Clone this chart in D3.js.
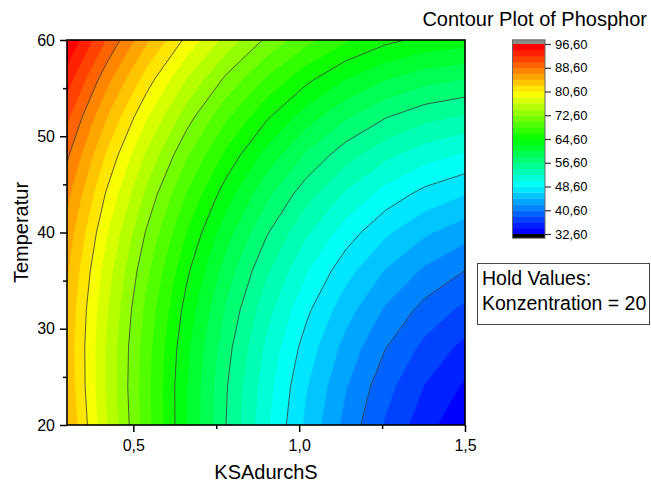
<!DOCTYPE html>
<html lang="en">
<head>
<meta charset="UTF-8">
<title>Contour Plot of Phosphor</title>
<script src="https://cdnjs.cloudflare.com/ajax/libs/d3/7.8.5/d3.min.js"></script>
<style>
  body { margin: 0; background: #fff; }
  svg { display: block; font-family: "Liberation Sans", Arial, sans-serif; }
</style>
</head>
<body>
<div id="chart"></div>
<script>
// grid: columns = KSAdurchS, rows = Temperatur (Konzentration held at 20)
const ksa = [0.30, 0.42, 0.54, 0.66, 0.78, 0.90, 1.02, 1.14, 1.26, 1.38, 1.50];
const temps = [20, 24, 28, 32, 36, 40, 44, 48, 52, 56, 60];

// Phosphor, one row per temperature
const phos20 = [84.69, 76.73, 69.39, 62.67, 56.57, 51.09, 46.22, 41.98, 38.36, 35.35, 32.97];
const phos24 = [84.14, 76.37, 69.22, 62.68, 56.77, 51.48, 46.80, 42.74, 39.31, 36.49, 34.29];
const phos28 = [83.98, 76.39, 69.43, 63.08, 57.36, 52.25, 47.76, 43.89, 40.64, 38.01, 36.00];
const phos32 = [84.20, 76.80, 70.02, 63.87, 58.33, 53.41, 49.11, 45.42, 42.36, 39.92, 38.10];
const phos36 = [84.81, 77.60, 71.01, 65.03, 59.68, 54.95, 50.84, 47.34, 44.47, 42.21, 40.57];
const phos40 = [85.80, 78.77, 72.37, 66.59, 61.42, 56.88, 52.95, 49.64, 46.95, 44.89, 43.44];
const phos44 = [87.17, 80.33, 74.12, 68.52, 63.54, 59.19, 55.45, 52.33, 49.83, 47.94, 46.68];
const phos48 = [88.93, 82.28, 76.25, 70.84, 66.05, 61.88, 58.33, 55.39, 53.08, 51.39, 50.31];
const phos52 = [91.07, 84.61, 78.77, 73.54, 68.94, 64.96, 61.59, 58.85, 56.72, 55.21, 54.33];
const phos56 = [93.60, 87.32, 81.67, 76.63, 72.22, 68.42, 65.24, 62.68, 60.74, 59.42, 58.72];
const phos60 = [96.51, 90.42, 84.95, 80.10, 75.88, 72.27, 69.28, 66.90, 65.15, 64.02, 63.51];
const rows = [phos20, phos24, phos28, phos32, phos36, phos40, phos44, phos48, phos52, phos56, phos60];

// levels
const colorTicks = [32.6, 40.6, 48.6, 56.6, 64.6, 72.6, 80.6, 88.6, 96.6];
const lineLevels = [40.6, 48.6, 56.6, 64.6, 72.6, 80.6, 88.6];
const levelStep = 2;
const xTicks = [0.5, 1.0, 1.5];
const xMinor = [0.75, 1.25];
const yTicks = [20, 30, 40, 50, 60];
const yMinor = [25, 35, 45, 55];

const W = 651, H = 482;
const plot = { left: 67, right: 465, top: 40, bottom: 425 };

const svg = d3.select("#chart").append("svg")
  .attr("width", W).attr("height", H);

const x = d3.scaleLinear().domain([0.3, 1.5]).range([plot.left, plot.right]);
const y = d3.scaleLinear().domain([20, 60]).range([plot.bottom, plot.top]);

const comma = f => (v => d3.format(f)(v).replace(".", ","));

// fill levels 32.6 .. 94.6 (band i spans [lvl, lvl + 2])
const lo = colorTicks[0], hi = colorTicks[colorTicks.length - 1];
const fillLevels = d3.range(0, Math.round((hi - lo) / levelStep)).map(i => +(lo + i * levelStep).toFixed(2));
const nb = fillLevels.length;
const rainbow = d3.scaleLinear()
  .domain([0, 0.25, 0.5, 0.75, 1])
  .range(["#0000ff", "#00ffff", "#00ff00", "#ffff00", "#ff0000"]);
const bandColor = i => rainbow(i / (nb - 1));

// contours on the grid
const nx = ksa.length, ny = temps.length;
const values = rows.flat();
const xStep = ksa[1] - ksa[0], tStep = temps[1] - temps[0];
const toPx = d3.geoTransform({
  point(gx, gy) {
    this.stream.point(x(ksa[0] + (gx - 0.5) * xStep), y(temps[0] + (gy - 0.5) * tStep));
  }
});
const path = d3.geoPath(toPx);
const contours = d3.contours().size([nx, ny]);

svg.append("clipPath").attr("id", "clip")
  .append("rect")
  .attr("x", plot.left).attr("y", plot.top)
  .attr("width", plot.right - plot.left).attr("height", plot.bottom - plot.top);

const g = svg.append("g").attr("clip-path", "url(#clip)");

g.selectAll("path.band")
  .data(contours.thresholds(fillLevels)(values))
  .join("path")
  .attr("class", "band")
  .attr("d", path)
  .attr("fill", (d, i) => bandColor(i))
  .attr("stroke", (d, i) => bandColor(i))
  .attr("stroke-width", 0.4);

g.selectAll("path.iso")
  .data(contours.thresholds(lineLevels)(values))
  .join("path")
  .attr("class", "iso")
  .attr("d", path)
  .attr("fill", "none")
  .attr("stroke", "#3a3a3a")
  .attr("stroke-width", 0.8);

// frame
svg.append("rect")
  .attr("x", plot.left).attr("y", plot.top)
  .attr("width", plot.right - plot.left).attr("height", plot.bottom - plot.top)
  .attr("fill", "none").attr("stroke", "#000").attr("stroke-width", 1.6);

// axes
function styleAxis(sel) {
  sel.select(".domain").remove();
  sel.selectAll(".tick line").attr("stroke", "#000").attr("stroke-width", 1.5);
  sel.selectAll(".tick text").attr("fill", "#000").style("font-size", "16px")
    .style("font-family", "'Liberation Sans', Arial, sans-serif");
}
svg.append("g")
  .attr("transform", `translate(0,${plot.bottom})`)
  .call(d3.axisBottom(x).tickValues(xTicks).tickFormat(comma(".1f")).tickSize(7).tickPadding(8))
  .call(styleAxis);
svg.append("g")
  .attr("transform", `translate(0,${plot.bottom})`)
  .call(d3.axisBottom(x).tickValues(xMinor).tickFormat("").tickSize(4))
  .call(styleAxis);
svg.append("g")
  .attr("transform", `translate(${plot.left},0)`)
  .call(d3.axisLeft(y).tickValues(yTicks).tickFormat(d3.format("d")).tickSize(7).tickPadding(5))
  .call(styleAxis);
svg.append("g")
  .attr("transform", `translate(${plot.left},0)`)
  .call(d3.axisLeft(y).tickValues(yMinor).tickFormat("").tickSize(4))
  .call(styleAxis);

// axis titles
svg.append("text")
  .attr("x", (plot.left + plot.right) / 2).attr("y", 479)
  .attr("text-anchor", "middle").style("font-size", "20px")
  .text("KSAdurchS");
svg.append("text")
  .attr("transform", `translate(28,${(plot.top + plot.bottom) / 2}) rotate(-90)`)
  .attr("text-anchor", "middle").style("font-size", "20px")
  .text("Temperatur");

// colour bar
const cb = { left: 512.5, right: 545 };
const cbY = d3.scaleLinear().domain([lo, hi]).range([234, 44]);
const cbg = svg.append("g");
cbg.selectAll("rect.band")
  .data(fillLevels)
  .join("rect")
  .attr("x", cb.left).attr("width", cb.right - cb.left)
  .attr("y", d => cbY(d + levelStep))
  .attr("height", d => cbY(d) - cbY(d + levelStep) + 0.3)
  .attr("fill", (d, i) => bandColor(i));
// over / under range
cbg.append("rect")
  .attr("x", cb.left).attr("width", cb.right - cb.left)
  .attr("y", cbY(hi + 1.4)).attr("height", cbY(hi) - cbY(hi + 1.4))
  .attr("fill", "#8c8c8c");
cbg.append("rect")
  .attr("x", cb.left).attr("width", cb.right - cb.left)
  .attr("y", cbY(lo)).attr("height", cbY(lo - 1.4) - cbY(lo))
  .attr("fill", "#000");
cbg.append("rect")
  .attr("x", cb.left).attr("y", cbY(hi + 1.4))
  .attr("width", cb.right - cb.left).attr("height", cbY(lo - 1.4) - cbY(hi + 1.4))
  .attr("fill", "none").attr("stroke", "#666").attr("stroke-width", 1);

svg.append("g")
  .attr("transform", `translate(${cb.right},0)`)
  .call(d3.axisRight(cbY).tickValues(colorTicks).tickFormat(comma(".2f")).tickSize(6).tickPadding(4))
  .call(sel => {
    sel.select(".domain").remove();
    sel.selectAll(".tick line").attr("stroke", "#333").attr("stroke-width", 1.2);
    sel.selectAll(".tick text").attr("fill", "#000").style("font-size", "13px")
      .style("font-family", "'Liberation Sans', Arial, sans-serif");
  });

// title
svg.append("text")
  .attr("x", 647).attr("y", 26)
  .attr("text-anchor", "end").style("font-size", "20px")
  .text("Contour Plot of Phosphor");

// hold values box
svg.append("rect")
  .attr("x", 477.5).attr("y", 263.5).attr("width", 172).attr("height", 61)
  .attr("fill", "#fff").attr("stroke", "#444").attr("stroke-width", 1);
const hold = svg.append("text").style("font-size", "19.5px");
hold.append("tspan").attr("x", 482).attr("y", 285).text("Hold Values:");
hold.append("tspan").attr("x", 482).attr("y", 310).text("Konzentration = 20");
</script>
</body>
</html>
